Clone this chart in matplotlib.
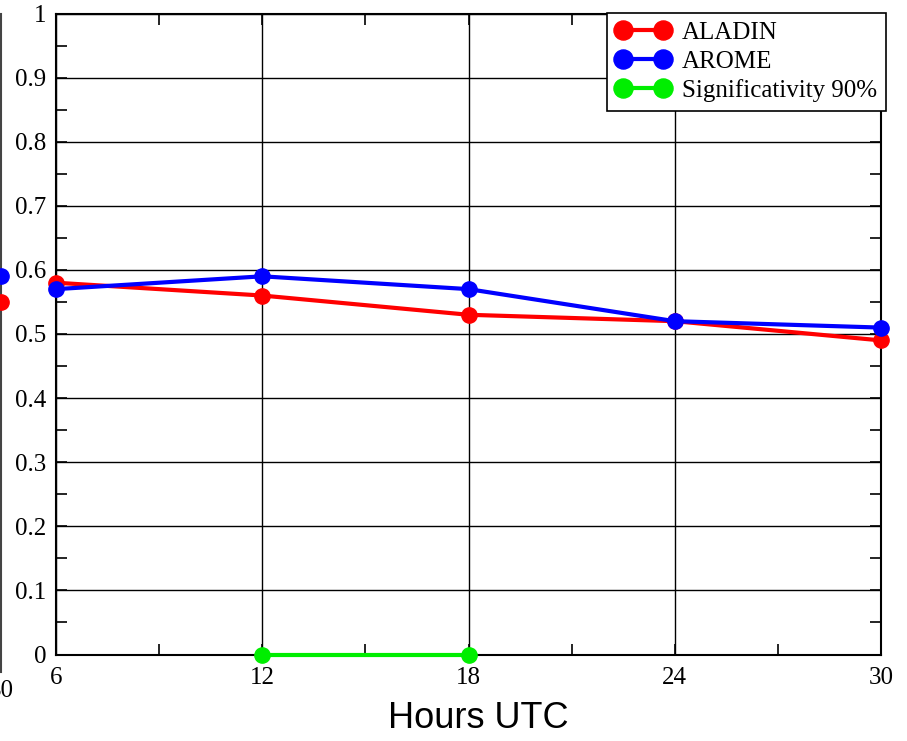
import matplotlib
matplotlib.use("Agg")
import matplotlib.pyplot as plt
from matplotlib.ticker import MultipleLocator

hours = [6, 12, 18, 24, 30]
aladin = [0.58, 0.56, 0.53, 0.52, 0.49]
arome = [0.57, 0.59, 0.57, 0.52, 0.51]
sig_hours = [12, 18]
sig_vals = [0, 0]
# sliver of the neighbouring panel (its last point)
prev_hour = [30]
prev_aladin = [0.55]
prev_arome = [0.59]
ytick_vals = [0, 0.1, 0.2, 0.3, 0.4, 0.5, 0.6, 0.7, 0.8, 0.9, 1]
ytick_labels = ["0", "0.1", "0.2", "0.3", "0.4", "0.5", "0.6", "0.7",
                "0.8", "0.9", "1"]

W, H = 907, 741
fig = plt.figure(figsize=(W / 100, H / 100), dpi=100)
serif = ["Liberation Serif", "DejaVu Serif"]
FS = 18

# main axes in pixel coords
L, R, T, B = 56, 881, 13.5, 654.5
ax = fig.add_axes([L / W, 1 - B / H, (R - L) / W, (B - T) / H])
ax.set_xlim(6, 30)
ax.set_ylim(0, 1)
ax.set_xticks(hours)
ax.set_xticklabels([str(h) for h in hours], fontfamily=serif)
ax.xaxis.set_minor_locator(MultipleLocator(3))
ax.set_yticks(ytick_vals)
ax.set_yticklabels(ytick_labels, fontfamily=serif)
ax.yaxis.set_minor_locator(MultipleLocator(0.05))
ax.grid(True, which="major", color="black", linewidth=1.0)
ax.tick_params(which="both", direction="in", top=True, right=True,
               labelsize=FS, width=1.2, length=8)
ax.tick_params(axis="x", pad=9)
ax.tick_params(axis="y", pad=7)
for sp in ax.spines.values():
    sp.set_linewidth(1.5)

kw = dict(linewidth=3, marker="o", markersize=11, clip_on=False, zorder=3)
ax.plot(hours, aladin, color="#ff0000", label="ALADIN", **kw)
ax.plot(hours, arome, color="#0000ff", label="AROME", **kw)
ax.plot(sig_hours, sig_vals, color="#00ee00", label="Significativity 90%", **kw)

leg = ax.legend(loc="upper right", bbox_to_anchor=(1.006, 1.001),
                prop={"family": serif, "size": FS}, fancybox=False,
                framealpha=1, edgecolor="black", borderpad=0.35,
                labelspacing=0.25, handlelength=2.2, handletextpad=0.45,
                borderaxespad=0, numpoints=2, markerscale=1.25)
leg.get_frame().set_linewidth(1.2)

ax.set_xlabel("Hours UTC", fontfamily=["Liberation Sans", "DejaVu Sans"],
              fontsize=26)
ax.xaxis.set_label_coords((478 - L) / (R - L), -0.072)

# neighbouring panel sliver on the far left
pB = 672
ax0 = fig.add_axes([(1 - 300) / W, 1 - pB / H, 300 / W, (pB - T) / H])
ax0.set_xlim(0, 30)
ax0.set_ylim(-(pB - B) / (B - T), 1)
for name, sp in ax0.spines.items():
    sp.set_visible(name == "right")
ax0.spines["right"].set_color("#444444")
ax0.spines["right"].set_linewidth(1.5)
ax0.set_yticks([])
ax0.set_xticks(prev_hour)
ax0.set_xticklabels(["30"], fontfamily=serif)
ax0.tick_params(axis="x", length=0, labelsize=FS, pad=6)
ax0.plot(prev_hour, prev_aladin, color="#ff0000", **kw)
ax0.plot(prev_hour, prev_arome, color="#0000ff", **kw)
ax0.patch.set_visible(False)

fig.savefig("out.png", dpi=100)
